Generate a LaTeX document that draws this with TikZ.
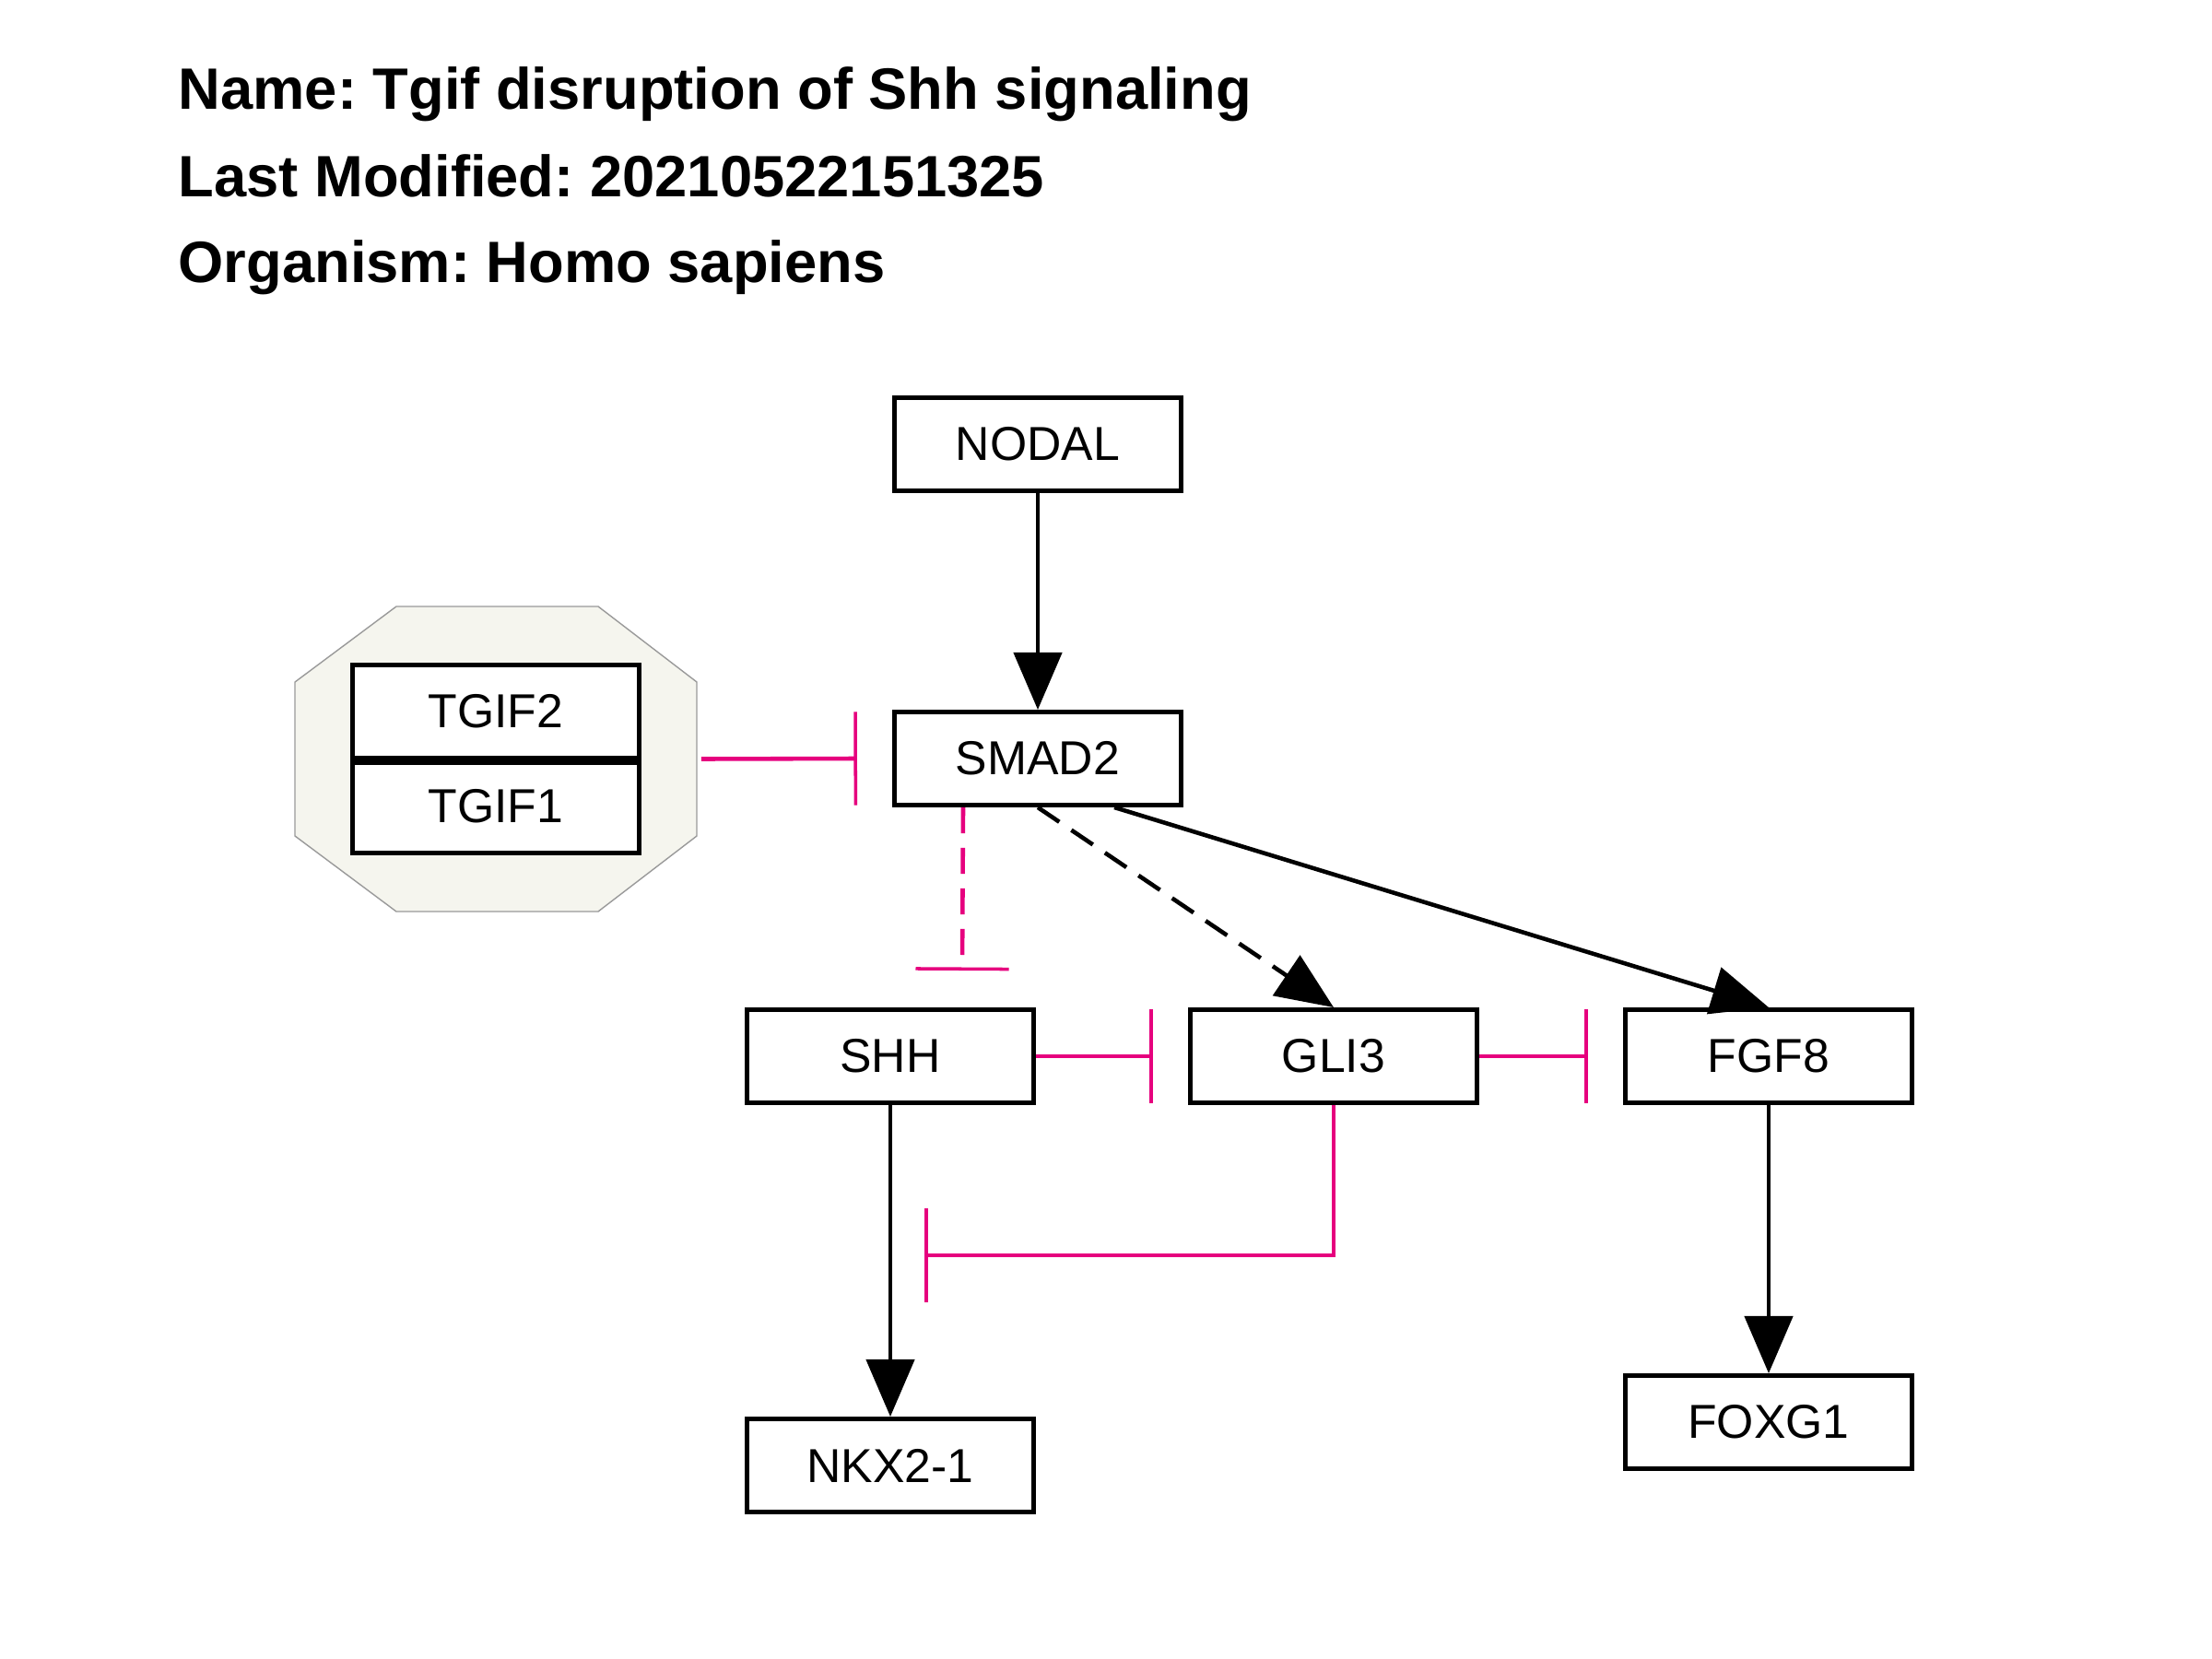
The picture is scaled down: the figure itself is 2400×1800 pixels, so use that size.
\documentclass[tikz,border=0pt]{standalone}
\usepackage{fontspec}
\setmainfont{Liberation Sans}
\usetikzlibrary{arrows.meta,calc}
\definecolor{inhib}{HTML}{E6007E}
\definecolor{cplxfill}{HTML}{F5F5EE}
\definecolor{cplxline}{HTML}{9A9A9A}
\frenchspacing
\begin{document}
\begin{tikzpicture}[x=0.01cm,y=-0.01cm,
  gene/.style={draw=black,line width=1.4pt,fill=white,minimum width=3.11cm,minimum height=1.01cm,inner sep=0pt,font=\fontsize{14.7}{17}\selectfont},
  act/.style={draw=black,line width=1.3pt,-{Triangle[length=0.62cm,width=0.52cm]}},
  inh/.style={draw=inhib,line width=1.3pt,-{Bar[width=1.01cm,line width=1pt]}},
  dsh/.style={dash pattern=on 8pt off 4.5pt},
  title/.style={anchor=base west,inner sep=0pt,font=\fontsize{18}{22}\selectfont\bfseries}]
\useasboundingbox[fill=white] (0,0) rectangle (2400,1800);
% title
\node[title] (t1) at (193,119) {Name: Tgif disruption of Shh signaling};
\node[title] (t2) at (193,213) {Last Modified: 20210522151325};
\node[title] (t3) at (193,307) {Organism: Homo sapiens};
% complex
\draw[fill=cplxfill,draw=cplxline,line width=0.4pt] (430,658) -- (649,658) -- (756,740) -- (756,907) -- (649,989) -- (430,989) -- (320,907) -- (320,740) -- cycle;
\node[inner sep=0pt,minimum width=4.36cm,minimum height=3.31cm] (cplx) at (538,823.5) {};
\node[gene] (tgif2) at (538,772) {TGIF2};
\node[gene] (tgif1) at (538,875) {TGIF1};
\draw[line width=2.6pt] (tgif2.south west) -- (tgif2.south east);
% genes
\node[gene] (nodal) at (1126,482) {NODAL};
\node[gene] (smad) at (1126,823) {SMAD2};
\node[gene] (shh) at (966,1146) {SHH};
\node[gene] (gli) at (1447,1146) {GLI3};
\node[gene] (fgf) at (1919,1146) {FGF8};
\node[gene] (nkx) at (966,1590) {NKX2-1};
\node[gene] (foxg) at (1919,1543) {FOXG1};
% connectors
\draw[act] (nodal.south) -- (smad.north);
\draw[inh] ($(cplx.east)+(4,0)$) -- ($(smad.west)+(-38,0)$);
\draw[inh,dsh] ($(smad.south)+(-81,0)$) -- ($(shh.north)+(78,-40)$);
\draw[act,dsh] (smad.south) -- (gli.north);
\draw[act] ($(smad.south east)+(-75,0)$) -- (fgf.north);
\draw[inh] (shh.east) -- ($(gli.west)+(-38,0)$);
\draw[inh] (gli.east) -- ($(fgf.west)+(-38,0)$);
\draw[act] (shh.south) -- (nkx.north);
\draw[act] (fgf.south) -- (foxg.north);
\coordinate (anc) at (1003,1362);
\draw[inh] (gli.south) |- (anc);
\end{tikzpicture}
\end{document}
